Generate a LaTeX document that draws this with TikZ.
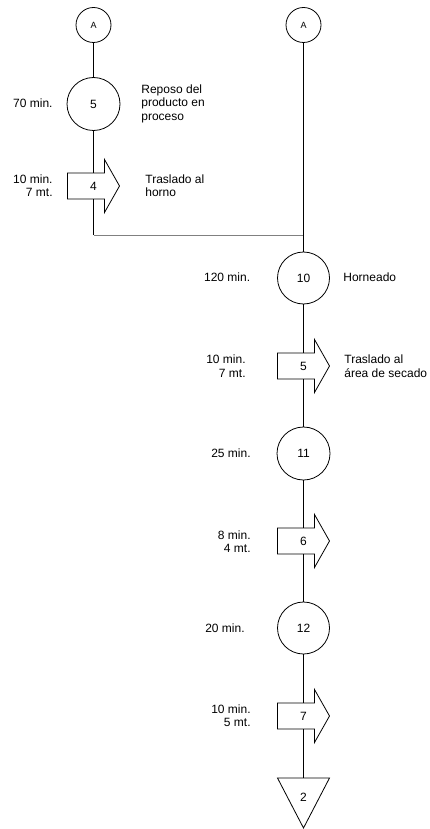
\documentclass[tikz,border=0pt]{standalone}
\usepackage{fontspec}
\setmainfont{Liberation Sans}
\usetikzlibrary{positioning}

\tikzset{
  main/.style = {draw, circle, inner sep=0pt, minimum size=53pt},
  conector/.style = {draw, circle, inner sep=0pt, minimum size=35pt, font=\fontsize{9}{10}\selectfont},
  tiempo/.style = {inner sep=0pt, anchor=east, align=right},
  nota/.style = {inner sep=0pt, anchor=west, align=left},
  traslado/.pic = {
    \draw (-26,-13) -- (11,-13) -- (11,-26.5) -- (26,0) -- (11,26.5) -- (11,13) -- (-26,13) -- cycle;
    \node[inner sep=0pt, minimum height=26pt, minimum width=1pt] (-n) {\tikzpictext};
  },
  almacen/.pic = {
    \draw (-26,0) -- (26,0) -- (0,50) -- cycle;
    \coordinate (-top) at (0,0);
    \node[inner sep=0pt] (-n) at (0,19) {\tikzpictext};
  }
}

\begin{document}
\begin{tikzpicture}[x=1pt, y=-1pt, line width=0.8pt, font=\fontsize{12}{13.5}\selectfont]
    \useasboundingbox (0,0) rectangle (430,829);
    % columna izquierda
    \node[conector] (aL) at (93.5,25) {A};
    \node[main] (c5) at (93.5,104) {5};
    \pic[pic text=4] (t4) at (93.5,186) {traslado};
    \coordinate (jL) at (93.5,235);
    \node[tiempo] (l5) at (53,103.5) {70 min.};
    \node[nota] (n5) at (141,103.5) {Reposo del\\producto en\\proceso};
    \node[tiempo] (l4) at (53,185.5) {10 min.\\7 mt.};
    \node[nota] (n4) at (145,185.5) {Traslado al\\horno};
    % columna derecha
    \node[conector] (aR) at (303.5,25) {A};
    \coordinate (jR) at (303.5,235);
    \node[main, minimum size=52pt] (c10) at (303.5,278) {10};
    \pic[pic text=5] (t5) at (303.5,366) {traslado};
    \node[main] (c11) at (303.5,453.5) {11};
    \pic[pic text=6] (t6) at (303.5,541) {traslado};
    \node[main, minimum size=52pt] (c12) at (303.5,628) {12};
    \pic[pic text=7] (t7) at (303.5,716) {traslado};
    \pic[pic text=2] (d2) at (303.5,778) {almacen};
    \node[tiempo] (l10) at (250.5,277.5) {120 min.};
    \node[nota] (n10) at (343,277.5) {Horneado};
    \node[tiempo] (lt5) at (246,366) {10 min.\\7 mt.};
    \node[nota] (nt5) at (344,366) {Traslado al\\área de secado};
    \node[tiempo] (l11) at (251,453) {25 min.};
    \node[tiempo] (lt6) at (251,541.5) {8 min.\\4 mt.};
    \node[tiempo] (l12) at (245,628) {20 min.};
    \node[tiempo] (lt7) at (251,715.5) {10 min.\\5 mt.};
    % conexiones
    \draw (aL) -- (c5);
    \draw (c5) -- (t4-n.north);
    \draw (t4-n.south) -- (jL);
    \draw[gray] (jL) -- (jR);
    \draw (aR) -- (c10);
    \draw (c10) -- (t5-n.north);
    \draw (t5-n.south) -- (c11);
    \draw (c11) -- (t6-n.north);
    \draw (t6-n.south) -- (c12);
    \draw (c12) -- (t7-n.north);
    \draw (t7-n.south) -- (d2-top);
\end{tikzpicture}
\end{document}
